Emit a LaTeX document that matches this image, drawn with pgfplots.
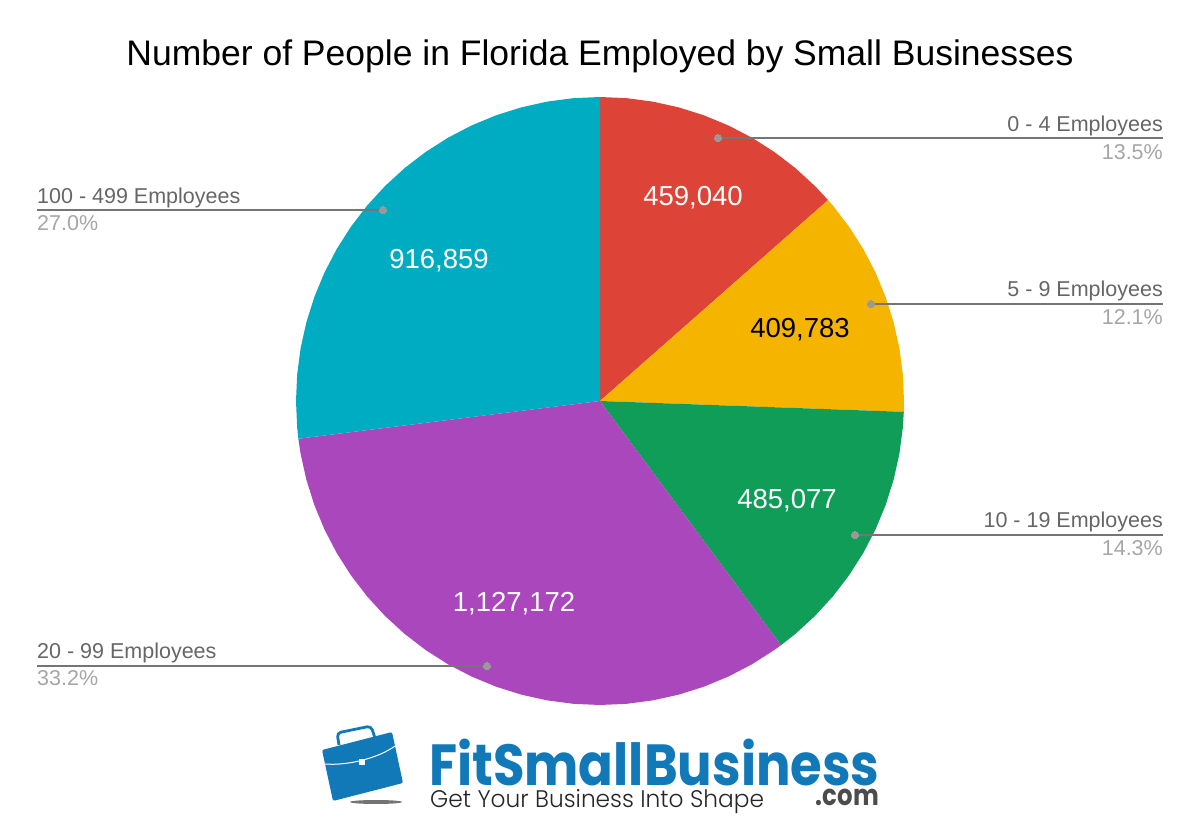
\documentclass[border=0pt]{standalone}
\usepackage{fontspec}
\usepackage{pgfplots}
\pgfplotsset{compat=1.18}
\setmainfont{Liberation Sans}
\newfontfamily\logofont{Poppins}
\newfontfamily\taglinefont{Poppins Light}
\definecolor{cRed}{HTML}{DD4437}
\definecolor{cYel}{HTML}{F4B400}
\definecolor{cGre}{HTML}{0F9D58}
\definecolor{cPur}{HTML}{AB47BC}
\definecolor{cTea}{HTML}{00ACC1}
\definecolor{cLine}{HTML}{757575}
\definecolor{cName}{HTML}{666666}
\definecolor{cPct}{HTML}{A6A6A6}
\definecolor{cLogo}{HTML}{1279B9}
\newcommand{\fs}[1]{\fontsize{#1pt}{#1pt}\selectfont}
\newcommand{\lab}[3]{%
  \node[anchor=base #3,inner sep=0pt,text=cName] at (axis cs:#1) {\fs{21.5}#2};}
\newcommand{\pct}[3]{%
  \node[anchor=base #3,inner sep=0pt,text=cPct] at (axis cs:#1) {\fs{21.5}#2};}
\begin{document}
\begin{tikzpicture}
\begin{axis}[
  anchor=south west, at={(0pt,0pt)},
  x=1pt, y=1pt, xmin=-600, xmax=600, ymin=-435, ymax=401,
  hide axis, clip=false, scale only axis]
% 0-4: 459,040 ; 5-9: 409,783 ; 10-19: 485,077 ; 20-99: 1,127,172 ; 100-499: 916,859
\addplot[fill=cRed,draw=none,data cs=polar] coordinates {(0,0)(90,304)(85,304)(80,304)(75,304)(70,304)(65,304)(60,304)(55,304)(50,304)(45,304)(41.37,304)} --cycle;
\addplot[fill=cYel,draw=none,data cs=polar] coordinates {(0,0)(41.37,304)(40,304)(35,304)(30,304)(25,304)(20,304)(15,304)(10,304)(5,304)(0,304)(-2.05,304)} --cycle;
\addplot[fill=cGre,draw=none,data cs=polar] coordinates {(0,0)(-2.05,304)(-5,304)(-10,304)(-15,304)(-20,304)(-25,304)(-30,304)(-35,304)(-40,304)(-45,304)(-50,304)(-53.44,304)} --cycle;
\addplot[fill=cPur,draw=none,data cs=polar] coordinates {(0,0)(-53.44,304)(-55,304)(-60,304)(-65,304)(-70,304)(-75,304)(-80,304)(-85,304)(-90,304)(-95,304)(-100,304)(-105,304)(-110,304)(-115,304)(-120,304)(-125,304)(-130,304)(-135,304)(-140,304)(-145,304)(-150,304)(-155,304)(-160,304)(-165,304)(-170,304)(-172.86,304)} --cycle;
\addplot[fill=cTea,draw=none,data cs=polar] coordinates {(0,0)(-172.86,304)(-175,304)(-180,304)(-185,304)(-190,304)(-195,304)(-200,304)(-205,304)(-210,304)(-215,304)(-220,304)(-225,304)(-230,304)(-235,304)(-240,304)(-245,304)(-250,304)(-255,304)(-260,304)(-265,304)(-270,304)} --cycle;
% leader lines
\addplot[cLine,line width=1.8pt] coordinates {(118,263)(563,263)};
\addplot[cLine,line width=1.8pt] coordinates {(271,97)(563,97)};
\addplot[cLine,line width=1.8pt] coordinates {(255,-134)(563,-134)};
\addplot[cLine,line width=1.8pt] coordinates {(-113,-265)(-563,-265)};
\addplot[cLine,line width=1.8pt] coordinates {(-217,191)(-563,191)};
\addplot[only marks,mark=*,mark size=3.6pt,mark options={fill=black!40,draw=black!40,line width=0pt}] coordinates {(118,263)(271,97)(255,-134)(-113,-265)(-217,191)};
% slice values
\node[text=white] at (axis cs:93,203.5) {\fs{27.5}459,040};
\node[text=black] at (axis cs:200,71) {\fs{27.5}409,783};
\node[text=white] at (axis cs:187,-99.5) {\fs{27.5}485,077};
\node[text=white] at (axis cs:-86,-203) {\fs{27.5}1,127,172};
\node[text=white] at (axis cs:-161,140) {\fs{27.5}916,859};
% callouts
\lab{563,269}{0 - 4 Employees}{east}\pct{563,241}{13.5\%}{east}
\lab{563,104}{5 - 9 Employees}{east}\pct{563,76}{12.1\%}{east}
\lab{563,-127}{10 - 19 Employees}{east}\pct{563,-155}{14.3\%}{east}
\lab{-563,-258}{20 - 99 Employees}{west}\pct{-563,-285}{33.2\%}{west}
\lab{-563,197.5}{100 - 499 Employees}{west}\pct{-563,170.5}{27.0\%}{west}
\node[anchor=base,inner sep=0pt] at (axis cs:0,335.5) {\fs{35.5}Number of People in Florida Employed by Small Businesses};
\end{axis}
% logo, page pixels
\begin{scope}[shift={(0pt,836pt)},x=1pt,y=-1pt]
\useasboundingbox (0,0) rectangle (1200,836);
\fill[black!55] (376,802) ellipse[x radius=26,y radius=2];
\draw[cLogo,line width=2.8pt,rounded corners=4pt] (339,745) -- (337,733) -- (371,726) -- (375,738);
\fill[cLogo,rounded corners=2pt] (322,750) -- (392,732) -- (403,783) -- (333,801) -- cycle;
\draw[white,line width=1pt] (324,764) .. controls (350,766) and (380,757) .. (395,746);
\fill[white] (359,759) rectangle (365,765);
\node[anchor=base west,inner sep=0pt,text=cLogo,xscale=0.884] at (429,785) {\logofont\bfseries\fs{58}FitSmallBusiness};
\node[anchor=base west,inner sep=0pt,text=black!85,xscale=0.97] at (430,807) {\taglinefont\fs{24}Get Your Business Into Shape};
\node[anchor=base east,inner sep=0pt,text=black!70,xscale=0.84] at (879,805) {\logofont\bfseries\fs{29}.com};
\end{scope}
\end{tikzpicture}
\end{document}
